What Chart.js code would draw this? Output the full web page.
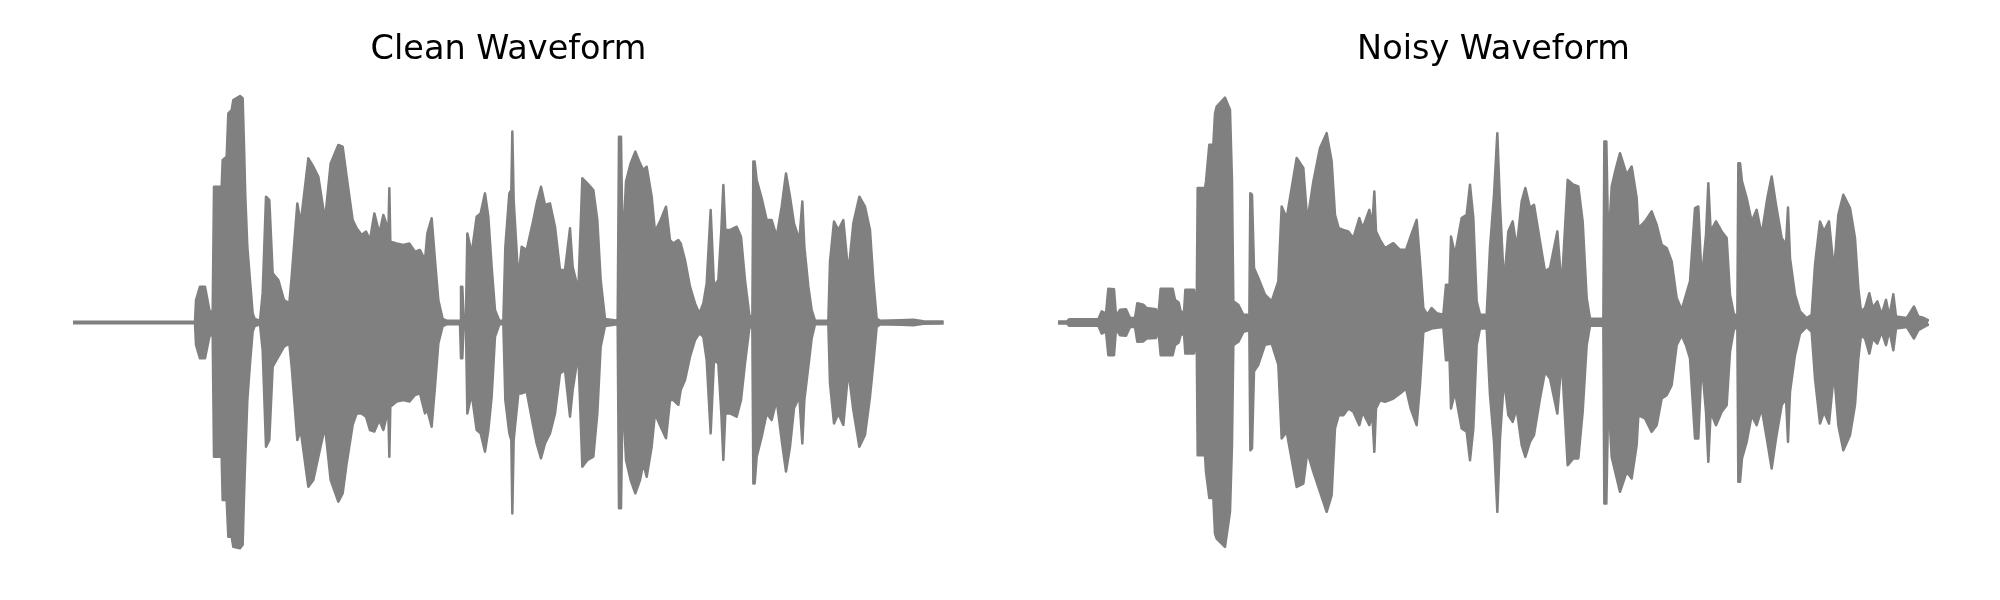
<!DOCTYPE html>
<html><head><meta charset="utf-8">
<script src="https://cdn.jsdelivr.net/npm/chart.js@4.4.1/dist/chart.umd.min.js"></script>
<style>
html,body{margin:0;padding:0;background:#fff;}
#wrap{position:relative;width:2000px;height:600px;}
canvas{position:absolute;top:0;}
</style></head><body>
<div id="wrap"><canvas id="c1" width="1000" height="600" style="left:0"></canvas><canvas id="c2" width="1000" height="600" style="left:1000px"></canvas></div>
<script>
// time (s) and envelope (upper / lower amplitude)
const cleanTime=[0,0.366,0.369,0.381,0.396,0.409,0.419,0.423,0.446,0.449,0.461,0.466,0.476,0.481,0.501,0.509,0.513,0.517,0.523,0.531,0.539,0.545,0.561,0.569,0.579,0.589,0.599,0.616,0.633,0.649,0.656,0.673,0.683,0.706,0.721,0.736,0.756,0.773,0.796,0.809,0.821,0.839,0.851,0.866,0.879,0.891,0.904,0.919,0.931,0.943,0.946,0.949,0.952,0.971,0.991,1.009,1.026,1.041,1.056,1.063,1.076,1.086,1.096,1.109,1.121,1.161,1.164,1.168,1.172,1.179,1.183,1.196,1.211,1.223,1.236,1.246,1.256,1.266,1.279,1.291,1.297,1.309,1.315,1.318,1.322,1.336,1.346,1.361,1.379,1.391,1.404,1.416,1.431,1.446,1.461,1.476,1.491,1.499,1.516,1.528,1.543,1.561,1.573,1.583,1.596,1.634,1.638,1.644,1.649,1.659,1.673,1.687,1.701,1.711,1.721,1.736,1.746,1.763,1.779,1.791,1.801,1.816,1.823,1.836,1.851,1.866,1.879,1.891,1.901,1.913,1.923,1.936,1.945,1.951,1.957,1.971,1.991,2.004,2.016,2.029,2.038,2.041,2.045,2.051,2.066,2.081,2.096,2.111,2.126,2.139,2.151,2.163,2.179,2.188,2.194,2.206,2.216,2.226,2.266,2.271,2.283,2.296,2.311,2.326,2.341,2.359,2.376,2.391,2.401,2.411,2.421,2.481,2.521,2.551,2.609];
const cleanUpper=[0.003,0.003,0.101,0.161,0.161,0.056,0.041,0.611,0.611,0.731,0.746,0.941,0.956,1.001,1.019,1.009,0.8,0.566,0.341,0.191,0.041,0.016,0.008,0.131,0.566,0.551,0.221,0.191,0.101,0.086,0.206,0.536,0.446,0.739,0.701,0.656,0.461,0.716,0.799,0.791,0.656,0.461,0.424,0.394,0.409,0.371,0.491,0.401,0.484,0.431,0.401,0.604,0.364,0.356,0.349,0.356,0.319,0.326,0.281,0.401,0.469,0.281,0.101,0.016,0.008,0.008,0.161,0.161,0.008,0.041,0.401,0.311,0.476,0.491,0.581,0.476,0.251,0.056,0.008,0.008,0.341,0.581,0.596,0.859,0.551,0.191,0.341,0.326,0.446,0.536,0.611,0.529,0.536,0.431,0.236,0.236,0.424,0.251,0.146,0.649,0.626,0.596,0.461,0.191,0.016,0.008,0.836,0.836,0.311,0.634,0.716,0.769,0.716,0.686,0.701,0.566,0.409,0.461,0.521,0.371,0.356,0.371,0.356,0.281,0.161,0.086,0.041,0.086,0.176,0.506,0.161,0.191,0.416,0.619,0.416,0.416,0.431,0.386,0.191,0.034,0.016,0.724,0.724,0.641,0.559,0.461,0.461,0.386,0.521,0.671,0.566,0.446,0.371,0.544,0.341,0.161,0.056,0.008,0.008,0.274,0.454,0.416,0.461,0.221,0.446,0.566,0.521,0.416,0.191,0.016,0.008,0.01,0.012,0.006,0.004];
const cleanLower=[-0.003,-0.003,-0.101,-0.161,-0.161,-0.064,-0.049,-0.604,-0.604,-0.799,-0.799,-0.964,-0.964,-1.009,-1.016,-1.0,-0.784,-0.6,-0.35,-0.184,-0.04,-0.016,-0.008,-0.124,-0.559,-0.529,-0.199,-0.154,-0.109,-0.094,-0.199,-0.529,-0.484,-0.739,-0.709,-0.604,-0.469,-0.709,-0.806,-0.769,-0.634,-0.461,-0.409,-0.409,-0.424,-0.484,-0.491,-0.439,-0.484,-0.409,-0.409,-0.604,-0.379,-0.356,-0.349,-0.356,-0.326,-0.319,-0.409,-0.394,-0.469,-0.289,-0.094,-0.016,-0.008,-0.008,-0.161,-0.161,-0.008,-0.034,-0.409,-0.319,-0.484,-0.499,-0.581,-0.484,-0.334,-0.064,-0.008,-0.008,-0.349,-0.499,-0.529,-0.859,-0.529,-0.319,-0.319,-0.311,-0.454,-0.544,-0.611,-0.544,-0.499,-0.409,-0.229,-0.214,-0.424,-0.304,-0.139,-0.649,-0.619,-0.604,-0.409,-0.109,-0.016,-0.008,-0.836,-0.836,-0.304,-0.619,-0.709,-0.769,-0.709,-0.634,-0.694,-0.559,-0.409,-0.469,-0.521,-0.349,-0.349,-0.371,-0.304,-0.259,-0.154,-0.079,-0.049,-0.064,-0.169,-0.499,-0.169,-0.184,-0.409,-0.619,-0.409,-0.409,-0.424,-0.349,-0.184,-0.026,-0.016,-0.724,-0.724,-0.604,-0.514,-0.409,-0.439,-0.349,-0.529,-0.671,-0.559,-0.386,-0.334,-0.544,-0.349,-0.199,-0.071,-0.008,-0.008,-0.274,-0.454,-0.409,-0.461,-0.214,-0.394,-0.559,-0.506,-0.334,-0.184,-0.02,-0.008,-0.01,-0.012,-0.006,-0.004];

const noisyTime=[0,0.026,0.034,0.121,0.131,0.144,0.151,0.168,0.174,0.186,0.204,0.216,0.231,0.238,0.256,0.266,0.294,0.301,0.308,0.344,0.351,0.362,0.368,0.378,0.382,0.408,0.416,0.419,0.441,0.444,0.454,0.466,0.471,0.476,0.501,0.516,0.522,0.526,0.541,0.556,0.574,0.577,0.582,0.588,0.601,0.621,0.641,0.661,0.671,0.686,0.716,0.736,0.748,0.766,0.786,0.806,0.821,0.831,0.842,0.856,0.871,0.886,0.904,0.914,0.934,0.943,0.949,0.954,0.966,0.981,1.006,1.026,1.044,1.058,1.076,1.086,1.096,1.108,1.121,1.136,1.156,1.164,1.168,1.172,1.179,1.191,1.211,1.226,1.236,1.246,1.256,1.266,1.286,1.296,1.308,1.318,1.326,1.338,1.351,1.364,1.376,1.391,1.402,1.416,1.428,1.446,1.461,1.476,1.498,1.511,1.529,1.546,1.561,1.574,1.586,1.596,1.636,1.639,1.645,1.651,1.661,1.674,1.686,1.706,1.721,1.736,1.741,1.761,1.781,1.796,1.811,1.826,1.841,1.856,1.871,1.884,1.896,1.911,1.921,1.931,1.944,1.951,1.958,1.974,1.991,2.006,2.016,2.028,2.038,2.041,2.046,2.052,2.066,2.081,2.096,2.111,2.128,2.141,2.154,2.171,2.184,2.19,2.196,2.211,2.226,2.246,2.261,2.271,2.286,2.298,2.313,2.328,2.341,2.356,2.376,2.391,2.401,2.409,2.421,2.434,2.444,2.458,2.471,2.484,2.494,2.506,2.514,2.546,2.568,2.581,2.598,2.611];
const noisyUpper=[0.004,0.004,0.015,0.015,0.05,0.04,0.152,0.15,0.03,0.057,0.06,0.02,0.02,0.087,0.08,0.065,0.06,0.03,0.152,0.152,0.102,0.09,0.05,0.045,0.147,0.147,0.05,0.605,0.605,0.635,0.8,0.8,0.94,0.972,1.012,0.957,0.635,0.095,0.08,0.035,0.035,0.582,0.575,0.245,0.2,0.125,0.095,0.185,0.522,0.47,0.74,0.695,0.455,0.635,0.785,0.852,0.725,0.485,0.425,0.417,0.41,0.38,0.47,0.425,0.507,0.44,0.59,0.41,0.372,0.335,0.357,0.327,0.327,0.387,0.462,0.275,0.065,0.035,0.065,0.042,0.035,0.17,0.17,0.035,0.387,0.305,0.47,0.485,0.62,0.47,0.095,0.035,0.035,0.335,0.575,0.852,0.53,0.17,0.41,0.455,0.335,0.545,0.605,0.515,0.53,0.365,0.23,0.245,0.41,0.155,0.642,0.62,0.612,0.455,0.11,0.017,0.017,0.815,0.815,0.335,0.612,0.695,0.762,0.665,0.702,0.56,0.425,0.455,0.5,0.44,0.35,0.335,0.275,0.11,0.057,0.125,0.185,0.515,0.522,0.185,0.395,0.627,0.41,0.455,0.41,0.38,0.125,0.035,0.035,0.717,0.717,0.635,0.56,0.455,0.507,0.395,0.56,0.657,0.53,0.38,0.35,0.517,0.29,0.125,0.05,0.02,0.035,0.26,0.455,0.41,0.455,0.23,0.485,0.575,0.515,0.38,0.155,0.05,0.065,0.132,0.065,0.095,0.035,0.102,0.027,0.127,0.027,0.02,0.072,0.027,0.02,0.01];
const noisyLower=[-0.004,-0.004,-0.015,-0.015,-0.05,-0.04,-0.147,-0.147,-0.03,-0.057,-0.06,-0.02,-0.02,-0.087,-0.085,-0.072,-0.07,-0.03,-0.147,-0.147,-0.102,-0.09,-0.057,-0.05,-0.14,-0.14,-0.05,-0.597,-0.597,-0.672,-0.79,-0.79,-0.95,-0.972,-1.01,-0.852,-0.55,-0.102,-0.087,-0.042,-0.035,-0.575,-0.567,-0.22,-0.19,-0.1,-0.095,-0.19,-0.522,-0.492,-0.74,-0.725,-0.582,-0.672,-0.762,-0.852,-0.777,-0.477,-0.417,-0.417,-0.387,-0.402,-0.462,-0.402,-0.462,-0.417,-0.582,-0.387,-0.35,-0.357,-0.342,-0.32,-0.297,-0.387,-0.462,-0.282,-0.042,-0.035,-0.027,-0.024,-0.02,-0.17,-0.17,-0.027,-0.387,-0.312,-0.477,-0.492,-0.62,-0.477,-0.102,-0.027,-0.027,-0.327,-0.537,-0.852,-0.522,-0.252,-0.417,-0.447,-0.387,-0.552,-0.605,-0.537,-0.507,-0.342,-0.222,-0.252,-0.41,-0.162,-0.642,-0.612,-0.612,-0.402,-0.102,-0.015,-0.015,-0.815,-0.815,-0.327,-0.605,-0.687,-0.762,-0.672,-0.702,-0.552,-0.417,-0.432,-0.492,-0.462,-0.342,-0.327,-0.282,-0.102,-0.057,-0.102,-0.162,-0.522,-0.522,-0.177,-0.402,-0.627,-0.402,-0.462,-0.402,-0.372,-0.132,-0.027,-0.027,-0.717,-0.717,-0.612,-0.537,-0.417,-0.462,-0.387,-0.537,-0.657,-0.522,-0.372,-0.342,-0.537,-0.312,-0.147,-0.05,-0.02,-0.042,-0.252,-0.455,-0.402,-0.455,-0.222,-0.462,-0.575,-0.507,-0.372,-0.162,-0.057,-0.072,-0.14,-0.072,-0.095,-0.042,-0.102,-0.035,-0.125,-0.027,-0.02,-0.072,-0.035,-0.02,-0.01];

const titles=['Clean Waveform','Noisy Waveform'];
const DURATION=2.613;
const AMP_LIMIT=1.09125;

function makeChart(id,title,t,up,lo,padL,padR){
  const ds=(vals,fill)=>({
    data:t.map((x,i)=>({x:x,y:vals[i]})),
    borderColor:'#808080',backgroundColor:'#808080',borderWidth:2.5,
    borderJoinStyle:'round',borderCapStyle:'round',
    pointRadius:0,tension:0,fill:fill
  });
  return new Chart(document.getElementById(id),{
    type:'line',
    data:{datasets:[ds(up,'+1'),ds(lo,false)]},
    options:{
      responsive:false,animation:false,devicePixelRatio:1,
      layout:{padding:{left:padL,right:padR,top:0,bottom:35}},
      plugins:{
        legend:{display:false},tooltip:{enabled:false},
        title:{display:true,text:title,color:'#000',
          font:{family:'DejaVu Sans',size:33.5,weight:'normal',lineHeight:1.2},
          padding:{top:30,bottom:9.8}}
      },
      scales:{
        x:{type:'linear',display:false,min:0,max:DURATION},
        y:{display:false,min:-AMP_LIMIT,max:AMP_LIMIT}
      }
    }
  });
}
makeChart('c1',titles[0],cleanTime,cleanUpper,cleanLower,73,56);
makeChart('c2',titles[1],noisyTime,noisyUpper,noisyLower,58,71);
</script>
</body></html>
